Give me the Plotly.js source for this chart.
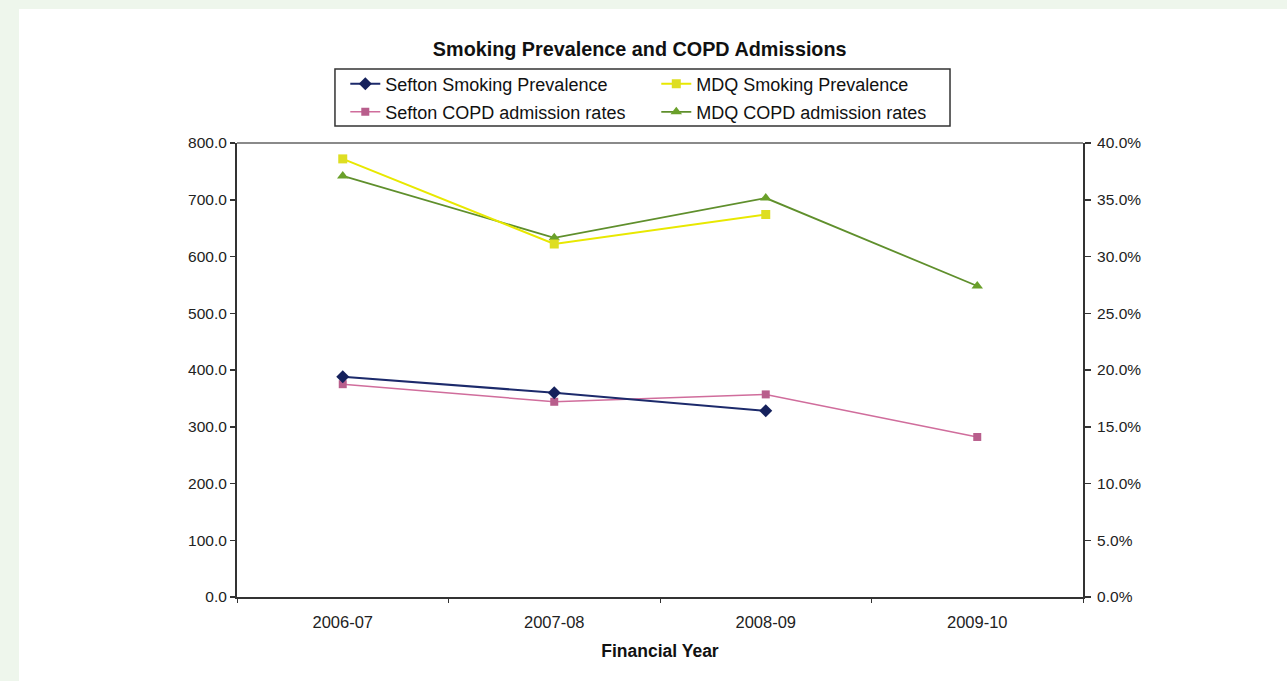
<!DOCTYPE html>
<html>
<head>
<meta charset="utf-8">
<script src="https://cdn.plot.ly/plotly-3.0.1.min.js"></script>
<style>
  html, body { margin: 0; padding: 0; background: #eef6ec; width: 1287px; height: 681px; overflow: hidden; }
  #chart { position: absolute; left: 19px; top: 9px; width: 1268px; height: 672px; background: #ffffff; }
</style>
</head>
<body>
<div id="chart"></div>
<script>
// ---- data ----
const years = ['2006-07', '2007-08', '2008-09', '2009-10'];
const seftonSmoking = [0.194, 0.180, 0.164, null];     // right axis (%)
const mdqSmoking = [0.386, 0.311, 0.337, null];        // right axis (%)
const seftonCOPD = [375, 344, 357, 282];               // left axis
const mdqCOPD = [742, 633, 703, 548];                  // left axis
const seriesNames = ['Sefton Smoking Prevalence', 'MDQ Smoking Prevalence', 'Sefton COPD admission rates', 'MDQ COPD admission rates'];

const FONT = 'Arial, "Liberation Sans", sans-serif';

const traces = [
  { x: years, y: seftonSmoking, name: seriesNames[0], yaxis: 'y2', legend: 'legend', mode: 'lines+markers',
    line: { color: '#1c2a6b', width: 2 }, marker: { symbol: 'diamond', size: 10, color: '#15215c' } },
  { x: years, y: mdqSmoking, name: seriesNames[1], yaxis: 'y2', legend: 'legend', mode: 'lines+markers',
    line: { color: '#e8e800', width: 2 }, marker: { symbol: 'square', size: 9, color: '#dede22' } },
  { x: years, y: seftonCOPD, name: seriesNames[2], yaxis: 'y', legend: 'legend2', mode: 'lines+markers',
    line: { color: '#d06d9c', width: 1.5 }, marker: { symbol: 'square', size: 8, color: '#b85e8c' } },
  { x: years, y: mdqCOPD, name: seriesNames[3], yaxis: 'y', legend: 'legend2', mode: 'lines+markers',
    line: { color: '#5f8f2c', width: 1.8 }, marker: { symbol: 'triangle-up', size: 10, color: '#6aa02a' } }
];

const legendCommon = {
  orientation: 'h', xanchor: 'left', yanchor: 'middle', x: 0.128,
  entrywidth: 266, entrywidthmode: 'pixels',
  bgcolor: 'rgba(0,0,0,0)', borderwidth: 0,
  font: { family: FONT, size: 18, color: '#111' }, itemclick: false, itemdoubleclick: false
};

const layout = {
  width: 1268, height: 672,
  paper_bgcolor: '#ffffff', plot_bgcolor: '#ffffff',
  margin: { l: 218, r: 204, t: 134, b: 84, pad: 0 },
  font: { family: FONT, color: '#222' },
  title: { text: '<b>Smoking Prevalence and COPD Admissions</b>', font: { family: FONT, size: 19.8, color: '#111' },
           xref: 'paper', x: 0.476, xanchor: 'center', yref: 'container', y: 0.94, yanchor: 'middle' },
  showlegend: true,
  legend: Object.assign({}, legendCommon, { y: 1.130 }),
  legend2: Object.assign({}, legendCommon, { y: 1.068 }),
  xaxis: {
    type: 'category', range: [-0.5, 3.5], showgrid: false, zeroline: false,
    showline: true, linecolor: '#333', linewidth: 2,
    ticks: 'outside', tickson: 'boundaries', ticklen: 4, tickcolor: '#333', tickwidth: 1,
    ticklabelstandoff: 9,
    tickfont: { family: FONT, size: 16.5, color: '#222' },
    title: { text: '<b>Financial Year</b>', font: { family: FONT, size: 17.5, color: '#111' }, standoff: 15 }
  },
  yaxis: {
    range: [0, 800], dtick: 100, tickformat: '.1f', showgrid: false, zeroline: false,
    showline: true, linecolor: '#333', linewidth: 2,
    ticks: 'outside', ticklen: 5, tickcolor: '#333', tickwidth: 1.5,
    tickfont: { family: FONT, size: 15.5, color: '#222' }
  },
  yaxis2: {
    overlaying: 'y', side: 'right', range: [0, 0.4], dtick: 0.05, tickformat: '.1%',
    showgrid: false, zeroline: false,
    showline: true, linecolor: '#333', linewidth: 2,
    ticks: 'outside', ticklen: 6, tickcolor: '#333', tickwidth: 1.5,
    ticklabelstandoff: 3,
    tickfont: { family: FONT, size: 15.5, color: '#222' }
  },
  shapes: [
    { type: 'line', xref: 'paper', yref: 'paper', x0: 0, x1: 1, y0: 1, y1: 1, line: { color: '#8a8a8a', width: 2 } },
    { type: 'rect', xref: 'paper', yref: 'paper', x0: 0.1158, x1: 0.8428, y0: 1.0374, y1: 1.163,
      line: { color: '#333', width: 1.5 }, fillcolor: 'rgba(0,0,0,0)' }
  ]
};

Plotly.newPlot('chart', traces, layout, { displayModeBar: false, staticPlot: true });
</script>
</body>
</html>
